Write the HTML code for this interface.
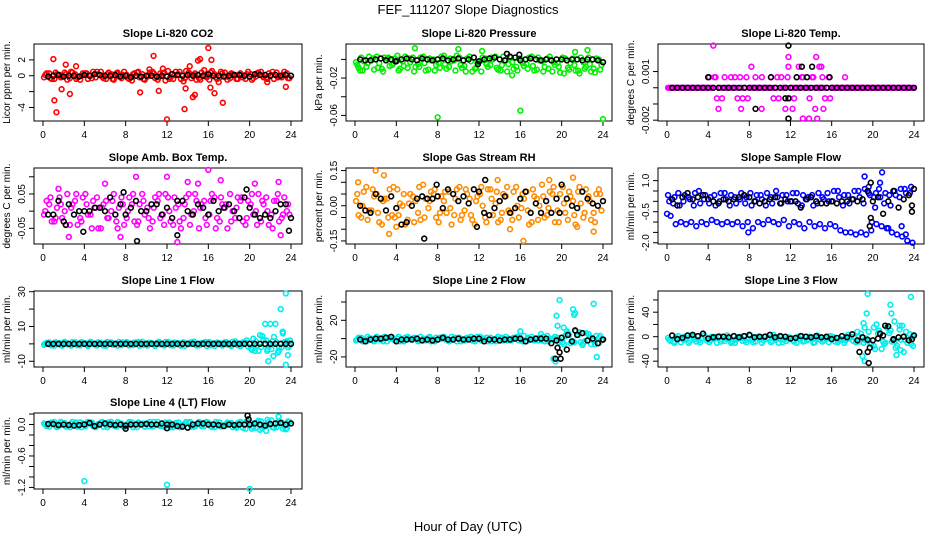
<!DOCTYPE html>
<html><head><meta charset="utf-8"><style>
html,body{margin:0;padding:0;background:#fff;}
svg{display:block;font-family:"Liberation Sans",Arial,sans-serif;}
</style></head><body>
<svg id="chart" width="936" height="540" viewBox="0 0 936 540">
<text x="468" y="14" text-anchor="middle" font-size="13">FEF_111207  Slope Diagnostics</text>
<text x="468" y="531" text-anchor="middle" font-size="13">Hour of Day (UTC)</text>
</svg>
<script>
const xTicks=[0,4,8,12,16,20,24];
// CO2
const co2A=[-0.2,0.3,-0.4,0.1,0.4,-0.3,0.2,-0.5,0.3,0.0,-0.2,0.5,-0.4,0.2,0.3,-0.3,0.1,-0.6,0.4,0.2,-0.1,0.5,-0.5,0.3,0.6,-0.4,0.2,-0.7,0.4,0.1,-0.3,0.7,-0.5,0.2,-0.2,0.4,-0.3,0.1,0.3,-0.4,0.2,-0.1,0.5,-0.3,0.1,0.4,-0.2,0.3];
const co2B=[0.3,-0.4,0.2,-0.1,-0.5,0.4,-0.2,0.3,-0.4,0.5,0.2,-0.3,0.4,-0.5,-0.1,0.5,-0.4,0.3,-0.2,-0.5,0.4,-0.3,0.3,-0.6,-0.2,0.5,-0.4,0.6,-0.3,-0.5,0.4,-0.2,0.6,-0.4,0.3,-0.5,0.2,-0.4,-0.2,0.5,-0.3,0.4,-0.2,0.3,-0.4,-0.1,0.5,-0.3];
const co2C=[0.1,-0.3,0.4,-0.2,0.2,0.5,-0.4,0.0,0.3,-0.3,0.5,-0.1,0.2,-0.4,0.4,0.1,-0.3,0.2,0.5,-0.4,0.0,0.3,-0.2,0.4,-0.4,0.1,0.5,-0.3,0.2,0.3,-0.5,0.0,0.4,-0.2,0.5,-0.1,0.3,-0.4,0.1,0.2,-0.5,0.3,0.0,-0.4,0.5,-0.2,0.1,-0.3];
const co2Out=[[1,2.1],[1.1,-3.1],[1.3,-4.6],[1.8,-1.7],[2.2,1.4],[2.6,-2.3],[3.2,1.2],[9.4,-2.1],[10.7,2.5],[11.2,-1.9],[12,-5.5],[13.7,-4.2],[13.8,-1.6],[14.5,-2.7],[14.7,-2.4],[15.2,2.1],[16,3.5],[16.3,2.0],[16.2,-1.5],[16.6,-2.2],[17.4,-3.4],[23.5,-1.4],[15,1.9],[14.2,1.2],[10.3,0.8],[11.6,0.9],[17,-0.8],[21.7,-0.8]];
const co2K=[-0.1,0.0,0.1,-0.1,0.0,0.0,-0.1,0.1,0.0,0.2,0.1,0.0,0.0,0.1,-0.1,0.0,-0.2,0.0,-0.1,0.0,0.0,-0.1,0.0,-0.1,0.2,0.1,0.0,0.1,0.0,0.1,0.0,0.2,0.0,0.0,-0.1,0.0,0.1,0.1,0.0,-0.1,0.2,0.1,0.1,0.0,0.1,0.0,0.1,0.0];
const co2KOut=[];
// Pressure
const prsA=[-0.003,0.002,-0.008,-0.001,0.003,-0.010,0.001,-0.006,0.004,-0.002,-0.009,0.002,-0.005,0.003,-0.011,0.000,-0.004,0.004,-0.008,-0.001,0.002,-0.007,0.003,-0.010,-0.002,0.001,-0.006,0.003,-0.012,-0.001,0.002,-0.008,0.000,-0.005,0.003,-0.011,-0.002,0.001,-0.013,-0.004,0.002,-0.009,0.001,-0.012,-0.003,0.002,-0.010,0.000];
const prsB=[-0.009,-0.002,0.003,-0.011,-0.004,0.002,-0.007,0.001,-0.010,0.003,-0.003,-0.008,0.002,-0.012,-0.001,-0.006,0.003,-0.010,-0.002,0.004,-0.009,0.001,-0.013,-0.003,0.002,-0.008,0.000,-0.011,0.003,-0.005,-0.010,0.001,-0.007,0.002,-0.012,-0.001,-0.008,0.003,-0.006,-0.014,0.001,-0.004,-0.012,0.002,-0.008,-0.013,0.001,-0.006];
const prsC=[-0.006,-0.012,-0.004,0.001,-0.009,-0.013,0.002,-0.004,-0.012,-0.007,0.001,-0.013,-0.008,-0.004,0.001,-0.012,-0.009,-0.005,0.001,-0.012,-0.006,-0.013,-0.002,-0.009,-0.013,-0.005,0.002,-0.009,-0.006,-0.013,-0.003,-0.012,-0.004,-0.010,-0.007,0.002,-0.013,-0.010,-0.003,-0.008,-0.015,-0.011,-0.006,-0.015,-0.010,-0.005,-0.014,-0.011];
const prsOut=[[8,-0.062],[16,-0.055],[24,-0.064],[5.8,0.012],[10,0.011],[12.3,0.009],[22.5,0.01],[15.2,-0.017],[0.5,-0.012],[21.3,0.008]];
const prsK=[0,-0.001,-0.001,0,0.001,-0.001,0,-0.002,0,0.001,0,-0.001,0.001,0,-0.001,0,0.001,-0.001,0,0.001,-0.001,0,0.002,-0.002,0,0.001,0.002,0,-0.001,0.003,0.002,-0.001,0,0.001,0,-0.001,0,-0.001,0,0,-0.001,0,0,-0.001,0,0,-0.001,-0.003];
const prsKOut=[[3.9,-0.002],[14.7,0.006],[15.9,0.005],[11.9,-0.005]];
// Li-820 temp
const tmpA=[0,0,0,0,0,0,0,0,0.00065,0.00065,0,0.00065,0,0.00065,0.00065,0,0,0.00065,0,0,0.00065,0,0.00065,0,0,0.00065,0.00065,0,0.00065,0,0.00065,0,0,0,0,0,0,0,0,0,0,0,0,0,0,0,0,0];
const tmpB=[0,0,0,0,0,0,0,0,0,-0.00065,-0.00065,0,0,-0.00065,-0.00065,-0.00065,0,0,0,0,-0.00065,-0.00065,0,-0.00065,-0.00065,0,0,-0.00065,0,0,-0.00065,-0.00065,0,0,0,0,0,0,0,0,0,0,0,0,0,0,0,0];
const tmpC=[0,0,0,0,0,0,0,0,0,0.00065,0,0,0.00065,0,0,0.00065,0,0,0.00065,0,0,0.00065,0,0.00065,0,0,0.00065,0,0.00065,0,0,0.00065,0,0,0,0,0,0,0,0,0,0,0,0,0,0,0,0];
const tmpOut=[[4.5,0.0026],[11.8,0.0019],[14.5,0.0019],[8.2,0.0013],[11.8,0.0013],[12.8,0.0013],[14.8,0.0013],[15,0.0013],[17.3,0.00065],[5,-0.0013],[7.2,-0.0013],[9.2,-0.0013],[11.5,-0.0013],[12.2,-0.0013],[14.4,-0.0013],[15.2,-0.0013],[13.2,-0.0019],[13.8,-0.0019],[14.6,-0.0019]];
const tmpK=[0,0,0,0,0,0,0,0,0,0,0,0,0,0,0,0,0,0,0,0,0,0,0,0,0,0,0,0,0,0,0,0,0,0,0,0,0,0,0,0,0,0,0,0,0,0,0,0];
const tmpKOut=[[4,0.00065],[10.1,0.00065],[12.6,0.00065],[13.6,0.00065],[15.8,0.00065],[13.1,0.0013],[14.1,0.0013],[11.8,0.0026],[11.5,-0.00065],[11.8,-0.00065],[8.6,-0.0013],[11.8,-0.0019]];
// Amb box temp
const ambA=[-0.01,0.02,-0.03,0.04,0.0,-0.04,0.03,-0.02,0.05,-0.01,0.01,-0.05,0.03,0.0,-0.03,0.04,-0.02,0.02,-0.04,0.05,0.01,-0.03,0.03,-0.01,0.04,-0.04,0.02,-0.02,0.05,0.0,-0.05,0.03,-0.01,0.04,-0.03,0.01,0.05,-0.02,0.03,-0.04,0.02,0.0,-0.03,0.04,-0.01,0.03,-0.02,0.0];
const ambB=[0.03,-0.03,0.01,-0.02,0.05,0.02,-0.04,0.04,-0.01,0.03,-0.05,0.02,-0.02,0.05,0.01,-0.04,0.04,-0.03,0.02,-0.01,-0.05,0.04,-0.02,0.05,-0.03,0.01,-0.05,0.04,-0.01,0.03,0.02,-0.04,0.05,-0.02,0.02,-0.05,0.0,0.04,-0.03,0.03,-0.01,0.05,0.02,-0.04,0.03,-0.03,0.04,-0.01];
const ambC=[0.0,0.04,-0.02,0.02,-0.04,0.01,0.05,-0.03,0.02,-0.05,0.04,0.01,-0.02,0.03,-0.05,0.02,0.0,0.05,-0.03,0.03,-0.02,0.01,0.05,-0.04,0.0,0.04,-0.03,0.02,-0.04,0.05,0.01,-0.02,0.03,-0.05,0.04,0.02,-0.03,0.01,0.04,-0.02,0.05,-0.04,0.03,0.0,-0.05,0.05,-0.01,0.02];
const ambOut=[[9,0.1],[12,0.1],[16,0.12],[17.2,0.09],[13,-0.09],[2.5,-0.075],[7.5,-0.075],[23,-0.07],[14,0.085],[6,0.08],[22.8,0.085],[1.5,0.065],[20.5,0.08],[15,0.08]];
const ambK=[-0.01,-0.01,0.03,-0.03,0.02,-0.01,0.0,0.0,0.0,0.01,0.01,0.0,0.04,-0.01,0.02,-0.01,0.01,0.03,0.0,0.0,0.02,0.02,-0.01,0.01,-0.02,0.03,0.03,0.0,-0.01,0.02,0.01,-0.01,0.03,0.0,0.01,0.02,0.0,-0.02,0.04,0.01,-0.01,-0.02,-0.01,-0.02,0.0,0.02,0.02,-0.02];
const ambKOut=[[9.1,-0.087],[13,-0.07],[3.9,-0.06],[23.8,-0.057],[19.7,0.063],[7.8,0.055],[2.2,-0.04]];
// Gas stream RH
const rhA=[0.02,-0.05,0.08,-0.02,0.05,-0.08,0.03,-0.04,0.07,0.0,-0.06,0.04,-0.03,0.09,-0.01,0.05,-0.07,0.02,0.06,-0.04,0.08,-0.02,0.03,-0.08,0.05,-0.05,0.07,0.01,-0.06,0.04,-0.03,0.08,-0.01,0.06,-0.07,0.03,0.09,-0.04,0.05,-0.02,0.08,-0.06,0.02,0.06,-0.05,0.04,-0.03,0.07];
const rhB=[-0.04,0.06,-0.02,0.04,-0.07,0.03,0.07,-0.05,0.01,-0.08,0.05,0.02,-0.06,0.03,0.06,-0.05,0.04,-0.03,-0.08,0.07,-0.04,0.05,-0.06,0.04,0.0,0.07,-0.04,-0.07,0.05,-0.02,0.06,-0.05,0.03,-0.08,0.04,0.0,-0.05,0.06,-0.07,0.05,-0.03,0.04,-0.08,0.01,0.07,-0.06,0.05,-0.02];
const rhC=[0.05,0.0,-0.06,0.07,-0.03,0.02,-0.05,0.08,-0.04,0.05,0.01,-0.07,0.08,-0.05,0.02,0.07,-0.03,0.06,-0.01,0.03,-0.06,0.07,-0.04,0.02,0.08,-0.07,0.03,0.06,-0.03,0.08,-0.06,0.0,0.05,-0.02,0.07,-0.06,0.04,-0.01,0.08,-0.07,0.01,0.06,-0.04,0.08,-0.03,0.02,-0.07,0.05];
const rhOut=[[2,0.15],[2.8,0.13],[3.3,-0.12],[16.3,-0.15],[23.1,-0.11],[21.1,0.12],[13.8,0.11],[0.3,0.1],[18.8,0.11],[4,-0.09],[21.5,-0.09],[15,-0.1]];
const rhK=[0.0,-0.02,-0.03,0.05,0.03,-0.02,0.04,-0.01,-0.08,-0.07,0.0,0.03,0.04,0.03,0.03,0.04,-0.01,0.07,0.05,0.02,0.04,0.01,0.07,0.06,-0.03,-0.04,-0.01,0.02,0.04,-0.03,-0.01,0.03,0.06,-0.03,0.01,-0.03,0.02,-0.03,0.03,0.09,0.03,0.0,-0.01,0.06,0.03,0.01,0.0,0.02];
const rhKOut=[[6.7,-0.14],[12.6,0.11],[7.9,0.09],[11.8,-0.09],[19.8,-0.03]];
// Sample flow
const smpA=[0.3,-0.1,0.4,0.0,0.2,-0.2,0.5,0.1,-0.1,0.3,0.0,0.4,-0.2,0.2,0.1,-0.1,0.4,0.0,0.3,-0.2,0.2,0.5,-0.1,0.3,0.0,0.4,-0.2,0.1,0.3,-0.1,0.2,0.4,0.0,0.5,-0.2,0.3,0.1,0.5,-0.1,0.4,0.2,0.6,-0.1,0.3,0.5,0.2,0.6,0.4];
const smpB=[-0.7,-1.1,-1.0,-1.1,-1.0,-1.2,-1.0,-1.1,-0.9,-1.0,-1.1,-1.0,-1.1,-1.0,-1.2,-1.0,-1.3,-1.0,-1.1,-0.9,-1.0,-1.1,-0.9,-1.2,-1.0,-1.1,-1.3,-1.0,-1.2,-1.1,-1.3,-1.1,-1.2,-1.4,-1.5,-1.5,-1.6,-1.5,-1.6,-1.4,-1.1,-1.2,-1.3,-1.5,-1.6,-1.7,-1.9,-2.0];
const smpC=[0.0,0.2,-0.2,0.3,0.1,0.4,-0.1,0.3,0.2,-0.2,0.4,0.1,0.3,-0.1,0.4,0.2,-0.2,0.3,0.1,0.4,-0.1,0.2,0.3,0.0,0.4,-0.1,0.3,0.2,-0.2,0.4,0.1,0.0,0.5,0.2,0.3,-0.1,0.5,0.2,0.6,0.3,-0.3,0.2,0.4,-0.2,0.3,0.6,0.4,0.7];
const smpOut=[[19.2,1.2],[20.9,1.4],[20.7,0.9],[19.6,0.7],[20.3,0.4],[0,-0.6],[7.9,-1.5],[22.8,-1.2],[21.5,-1.3],[19.9,-1.0],[23.2,-1.6]];
const smpK=[0.1,-0.2,0.2,0.4,0.1,0.2,0.3,0.1,0.0,-0.1,0.1,0.0,0.1,0.2,0.3,0.2,0.0,-0.1,0.0,0.1,0.2,-0.1,0.1,0.0,0.0,-0.3,0.1,0.2,0.0,-0.1,-0.1,0.0,-0.1,0.0,0.0,0.1,0.0,0.1,0.5,0.0,0.2,-0.6,0.0,0.5,-0.3,0.1,0.3,0.6];
const smpKOut=[[19.8,0.9],[19.8,-0.8],[19.7,-1.2],[23.8,-0.2],[23.8,-0.5]];
// Line 1
const l1A=[-0.5,0.8,-1.0,0.5,1.2,-0.3,0.9,-0.8,0.4,1.1,-0.6,0.7,-1.1,0.9,0.2,-0.7,1.0,-0.4,0.6,1.2,-0.9,0.3,0.8,-0.5,1.1,-1.0,0.5,0.9,-0.2,1.3,-0.8,0.6,1.0,-1.2,0.4,0.9,-0.5,1.4,-1.3,0.7,-2.5,1.5,-1.8,2.0,-3.0,1.0,-2.0,1.5];
const l1B=[0.6,-0.9,0.3,-1.1,-0.2,1.0,-0.8,0.5,-1.2,0.0,0.9,-1.0,0.4,-0.6,1.1,0.6,-0.9,0.8,-1.1,0.1,0.7,-1.2,-0.3,1.0,-0.7,0.6,-1.1,0.2,0.9,-0.9,0.5,-1.2,0.3,0.8,-1.0,-0.4,1.2,-0.8,0.9,-1.5,3.0,-4.0,2.5,-1.5,4.0,-2.0,1.0,-1.0];
const l1C=[0.2,-0.4,0.9,-0.7,0.5,-1.0,0.3,1.0,-0.5,0.7,-0.9,0.1,1.1,-0.4,-1.0,0.8,0.3,-0.7,1.0,-0.6,0.5,-0.2,1.2,-0.9,0.2,0.8,-0.6,-1.1,0.6,0.3,-0.5,1.1,-0.8,0.4,-0.2,1.0,-1.2,0.6,-0.4,2.0,-3.5,-1.0,4.5,-3.0,1.5,-5.0,6.0,-2.0];
const l1Out=[[21,5],[21.5,11.5],[22,11.5],[22.5,11.5],[23,20],[23.5,29],[21.8,-10],[23.5,-12],[22.3,-7],[23.7,-6.5],[21.7,-4],[20.5,-4],[22.8,-4],[23.2,7],[23.9,2]];
const l1K=[0,0,0,0,0,0,0,0,0,0,0,0,0,0,0,0,0,0,0,0,0,0,0,0,0,0,0,0,0,0,0,0,0,0,0,0,0,0,0,0,0,0,0,0,0,0,0,0];
const l1KOut=[];
// Line 2
const l2A=[-2,1,-3,0,2,-1,-3,1,0,-2,2,-1,-3,0,1,-2,-1,2,-3,0,1,-2,0,-3,2,-1,1,-3,0,2,-2,1,-1,-3,2,0,-2,3,-1,1,-4,6,-3,4,-5,5,-2,1];
const l2B=[1,-2,0,-3,-1,2,0,-2,-3,1,-1,0,2,-2,-3,1,0,-1,2,-3,-1,1,-2,2,0,-3,-1,2,-2,0,1,-2,3,0,-2,1,-3,0,2,-2,3,-5,8,-4,6,-6,3,-2];
const l2C=[-1,-3,2,-2,0,-3,1,-1,2,-3,0,1,-2,-1,2,-3,1,-1,-2,1,-3,0,2,-1,-2,1,-3,0,1,-2,-1,2,-3,1,-1,-2,2,-3,0,-4,-6,4,-4,7,-3,2,-6,3];
const l2Out=[[19.2,-22],[19.4,-25],[19.8,42],[19.5,25],[21.1,32],[21.3,28],[21.2,26],[23.1,38],[23.4,-20],[19.6,14],[20.2,12],[20.5,8],[22,-7],[23.6,-5],[16,8],[18,5]];
const l2K=[-1,-3,-1,0,0,1,2,-3,-1,-1,-1,0,-2,-1,-2,-1,1,-1,-1,0,-1,-1,0,0,-3,-1,-1,-2,-1,-1,0,0,-3,-1,0,0,0,-5,-2,1,-12,-3,4,6,-2,0,-5,-1];
const l2KOut=[[19.6,-10],[19.8,-15],[19.9,-22],[19.4,-22],[20.6,4],[21.3,9],[24,-1]];
// Line 3
const l3A=[-2,-8,1,-5,-10,0,-6,2,-9,-3,1,-7,-4,-10,0,-6,2,-8,-3,1,-9,-5,0,-7,-2,-10,1,-6,-4,2,-8,-3,0,-9,-5,3,-7,0,-10,8,-15,10,-12,6,-8,12,-5,4];
const l3B=[-7,-1,-9,-4,2,-8,-3,-6,0,-10,-5,2,-8,-1,-7,-4,-9,0,-6,-2,3,-10,-5,-1,-8,-3,-7,0,-9,-5,-2,1,-8,-4,-6,0,-9,5,-3,-12,20,-20,15,-8,-15,18,-10,0];
const l3C=[-5,-10,-3,0,-7,-4,-9,-1,-6,0,-8,-3,-10,-5,-2,-9,-5,-1,-10,-4,-7,-1,-9,-3,-6,0,-8,-4,-10,-1,-5,-9,-2,-6,-10,-3,-1,-8,-5,-10,-20,5,-10,10,-18,-5,8,-12];
const l3Out=[[19.5,70],[21.7,52],[21.8,38],[23.7,65],[19.4,38],[19.1,22],[19.2,15],[20.1,15],[22.1,25],[22.6,18],[19,-32],[19.2,-40],[22.3,-30],[23,-25],[22.7,-22],[21,-8],[23.9,-15],[18.5,8],[20.5,5]];
const l3K=[2,-4,-2,2,3,1,5,-3,-1,0,0,-1,1,-1,1,3,-1,0,0,3,-1,1,0,-3,-2,1,0,-1,1,-1,0,-4,-2,1,-1,4,-6,-1,-5,-6,-3,2,17,-4,-1,0,-6,2];
const l3KOut=[[18.7,-25],[19.5,-25],[19.7,-18],[19.6,-43],[21.2,18],[20.7,5],[22,-5],[23.8,-4]];
// Line 4
const l4A=[0.02,-0.04,0.05,-0.02,0.03,-0.05,0.01,0.04,-0.03,0.02,-0.05,0.04,-0.01,0.05,-0.04,0.02,-0.02,0.04,-0.05,0.01,0.03,-0.04,0.05,-0.02,0.02,-0.05,0.04,-0.01,0.03,-0.04,0.05,-0.03,0.02,-0.05,0.04,-0.02,0.01,-0.04,0.05,-0.08,0.03,-0.06,0.06,-0.03,0.08,-0.05,0.04,-0.07];
const l4B=[-0.03,0.04,-0.05,0.03,-0.01,0.05,-0.04,0.02,0.05,-0.03,0.01,-0.04,0.04,-0.02,0.03,-0.05,0.05,-0.01,0.02,-0.04,0.05,0.0,-0.03,0.04,-0.05,0.03,-0.02,0.05,-0.04,0.01,-0.03,0.05,-0.05,0.02,-0.02,0.04,-0.05,0.03,-0.06,0.05,-0.05,0.07,-0.04,0.05,-0.06,0.07,-0.03,0.05];
const l4C=[0.0,0.03,-0.02,0.05,-0.04,0.02,0.04,-0.05,0.01,0.04,-0.02,0.05,-0.05,0.01,0.05,-0.03,0.02,-0.05,0.04,0.02,-0.03,0.05,-0.01,-0.04,0.04,0.01,-0.05,0.02,0.05,-0.03,0.0,0.04,-0.03,0.05,-0.04,0.01,0.03,-0.06,0.02,0.06,-0.08,0.04,-0.07,0.09,-0.05,0.02,-0.08,0.06];
const l4Out=[[4,-1.08],[12,-1.15],[20,-1.23],[22.8,0.15],[21,-0.1],[21.6,-0.12],[23.5,-0.09]];
const l4K=[0.01,0.01,-0.01,0.0,-0.01,-0.02,-0.01,0.0,0.03,-0.03,0.0,0.02,0.0,-0.01,0.0,-0.02,0.0,0.0,0.0,0.01,0.0,0.0,0.02,0.0,0.0,-0.03,-0.04,-0.06,0.0,0.02,0.02,0.0,0.0,-0.01,-0.03,0.0,-0.01,0.0,0.0,0.0,0.02,0.0,-0.02,0.01,0.02,0.03,0.0,0.02];
const l4KOut=[[19.8,0.17],[19.9,0.1],[8,-0.08],[12,-0.07]];

const NS='http://www.w3.org/2000/svg';
const svg=document.getElementById('chart');
const colX=[[34,302,43,291],[346,612,355,603],[658,924,667,914]];
const rowY=[[44,121],[168,244],[291,367],[413,489]];
const panels=[
 {n:'co2',t:'Slope Li-820 CO2',yl:'Licor ppm per min.',c:0,r:0,lim:[-5.7,4.0],tk:[-4,-2,0,2],lb:['2','0','-4'],col:'#ff0000',A:co2A,B:co2B,C:co2C,O:co2Out,K:co2K,KO:co2KOut},
 {n:'pressure',t:'Slope Li-820 Pressure',yl:'kPa per min.',c:1,r:0,lim:[-0.066,0.0165],tk:[-0.06,-0.04,-0.02,0],lb:['-0.02','-0.06'],col:'#00ee00',A:prsA,B:prsB,C:prsC,O:prsOut,K:prsK,KO:prsKOut},
 {n:'li820-temp',t:'Slope Li-820 Temp.',yl:'degrees C per min.',c:2,r:0,lim:[-0.00205,0.0027],tk:[-0.002,-0.001,0,0.001],lb:['0.001','-0.002'],col:'#ff00ff',A:tmpA,B:tmpB,C:tmpC,O:tmpOut,K:tmpK,KO:tmpKOut},
 {n:'amb-temp',t:'Slope Amb. Box Temp.',yl:'degrees C per min.',c:0,r:1,lim:[-0.0956,0.1256],tk:[-0.05,0,0.05,0.1],lb:['0.05','-0.05'],col:'#ff00ff',A:ambA,B:ambB,C:ambC,O:ambOut,K:ambK,KO:ambKOut},
 {n:'gas-rh',t:'Slope Gas Stream RH',yl:'percent per min.',c:1,r:1,lim:[-0.163,0.161],tk:[-0.15,-0.1,-0.05,0,0.05,0.1,0.15],lb:['0.15','0.00','-0.15'],col:'#ff8c00',A:rhA,B:rhB,C:rhC,O:rhOut,K:rhK,KO:rhKOut},
 {n:'sample-flow',t:'Slope Sample Flow',yl:'ml/min per min.',c:2,r:1,lim:[-2.06,1.61],tk:[-2,-1.5,-1,-0.5,0,0.5,1],lb:['1.0','-0.5','-2.0'],col:'#0000ff',A:smpA,B:smpB,C:smpC,O:smpOut,K:smpK,KO:smpKOut},
 {n:'line1-flow',t:'Slope Line 1 Flow',yl:'ml/min per min.',c:0,r:2,lim:[-13.3,30.4],tk:[-10,0,10,20,30],lb:['30','10','-10'],col:'#00eeee',A:l1A,B:l1B,C:l1C,O:l1Out,K:l1K,KO:l1KOut},
 {n:'line2-flow',t:'Slope Line 2 Flow',yl:'ml/min per min.',c:1,r:2,lim:[-31,52],tk:[-20,0,20,40],lb:['20','-20'],col:'#00eeee',A:l2A,B:l2B,C:l2C,O:l2Out,K:l2K,KO:l2KOut},
 {n:'line3-flow',t:'Slope Line 3 Flow',yl:'ml/min per min.',c:2,r:2,lim:[-49.5,74.6],tk:[-40,-20,0,20,40,60],lb:['40','0','-40'],col:'#00eeee',A:l3A,B:l3B,C:l3C,O:l3Out,K:l3K,KO:l3KOut},
 {n:'line4-flow',t:'Slope Line 4 (LT) Flow',yl:'ml/min per min.',c:0,r:3,lim:[-1.23,0.22],tk:[-1.2,-1.0,-0.8,-0.6,-0.4,-0.2,0,0.2],lb:['0.0','-0.6','-1.2'],col:'#00eeee',A:l4A,B:l4B,C:l4C,O:l4Out,K:l4K,KO:l4KOut}
];
function mk(tag,attrs,parent){const e=document.createElementNS(NS,tag);for(const k in attrs)e.setAttribute(k,attrs[k]);parent.appendChild(e);return e;}
panels.forEach(p=>{
  const [bl,br,x0,x24]=colX[p.c];const [bt,bb]=rowY[p.r];
  const g=mk('g',{},svg);
  
  
  const xs=h=>x0+(x24-x0)*h/24;
  const ys=v=>bb-(v-p.lim[0])/(p.lim[1]-p.lim[0])*(bb-bt);
  const tt=mk('text',{x:(bl+br)/2,y:bt-7,'text-anchor':'middle','font-size':'11','font-weight':'bold'},g);tt.textContent=p.t;
  
  
  const box=mk('rect',{x:bl,y:bt,width:br-bl,height:bb-bt,fill:'none',stroke:'#000','stroke-width':1},g);
  
  
  const xa=mk('g',{},g);
  
  
  xTicks.forEach(h=>{const x=xs(h);mk('line',{x1:x,y1:bb,x2:x,y2:bb+5,stroke:'#000'},xa);
    const t=mk('text',{x:x,y:bb+17,'text-anchor':'middle','font-size':'10'},xa);t.textContent=h;
    
    });
  const ya=mk('g',{},g);
  
  
  p.tk.forEach(v=>{const y=ys(v);mk('line',{x1:bl,y1:y,x2:bl-5,y2:y,stroke:'#000'},ya);});
  p.lb.forEach(s=>{const y=ys(parseFloat(s));const t=mk('text',{x:bl-9,y:y,'text-anchor':'middle','font-size':'10',transform:`rotate(-90 ${bl-9} ${y})`},ya);t.textContent=s;
    
    });
  const yt=mk('text',{x:bl-24,y:(bt+bb)/2,'text-anchor':'middle','font-size':'10',transform:`rotate(-90 ${bl-24} ${(bt+bb)/2})`},g);yt.textContent=p.yl;
  
  
  const pg=mk('g',{fill:'none','stroke-width':1.6},g);
  
  
  const pt=(h,v,c)=>{const e=mk('circle',{cx:xs(h),cy:ys(v),r:2.4,stroke:c},pg);
    
    };
  p.A.forEach((v,i)=>pt(i*0.5+0.1,v,p.col));
  p.B.forEach((v,i)=>pt(i*0.5+0.35,v,p.col));
  p.C.forEach((v,i)=>pt(i*0.5+0.22,v,p.col));
  p.O.forEach(d=>pt(d[0],d[1],p.col));
  p.K.forEach((v,i)=>pt(i*0.5+0.5,v,'#000'));
  p.KO.forEach(d=>pt(d[0],d[1],'#000'));
});
</script>
</body></html>
